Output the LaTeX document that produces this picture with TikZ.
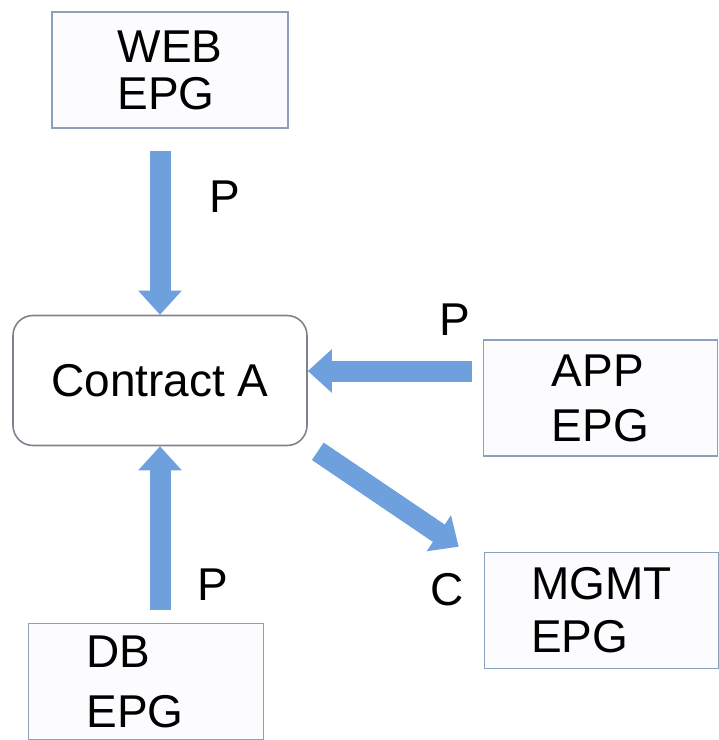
\documentclass[tikz,border=0pt]{standalone}
\usepackage{fontspec}
\setmainfont{Liberation Sans}
\usetikzlibrary{arrows.meta, positioning}
\definecolor{flowblue}{RGB}{110,160,222}
\definecolor{epgline}{RGB}{140,160,185}
\definecolor{ctline}{RGB}{125,130,140}
\tikzset{
  epg/.style={
    draw=epgline,
    line width=1.6pt,
    fill=blue!1,
    rectangle,
    minimum height=116pt,
    minimum width=234pt,
    align=left,
    inner sep=0pt,
  },
  contract/.style={
    draw=ctline,
    line width=1.6pt,
    rectangle,
    rounded corners=20pt,
    minimum height=130pt,
    minimum width=294pt,
    align=center,
  },
  flow/.style={
    -{Triangle[width=42pt,length=24pt]},
    line width=21pt,
    draw=flowblue,
    fill=flowblue
  },
  lbl/.style={
    inner sep=0pt
  }
}

\begin{document}
\begin{tikzpicture}[x=1pt, y=-1pt, font=\fontsize{46}{47}\selectfont]
  \useasboundingbox (0,0) rectangle (719,740);

  % Groupes
  \node[contract] (contract) at (160,380.5) {Contract A};
  \node[epg, minimum width=236pt] (web) at (170,70) {WEB\\EPG};
  \node[epg] (app) at (600.5,398) {APP\\[8pt]EPG};
  \node[epg] (mgmt) at (601.5,610.5) {MGMT\\[6pt]EPG};
  \node[epg, inner xsep=58pt, text width=119pt] (db) at (146,681.5) {DB\\[13pt]EPG};

  % Fleches
  \draw[flow, shorten <=22pt] (contract.north |- web.south) -- (contract.north);
  \draw[flow, shorten <=13pt] (contract.south |- db.north) -- (contract.south);
  \draw[flow, shorten <=11pt] ([yshift=27pt]app.west) -- ([yshift=9.5pt]contract.east);
  \draw[flow] ([shift={(10pt,-5pt)}]contract.south east) -- ([shift={(-25pt,5pt)}]mgmt.north west);

  % Etiquettes
  \node[lbl] (pweb) at (225,197) {P};
  \node[lbl] (papp) at (455,320) {P};
  \node[lbl] (pdb) at (213,585) {P};
  \node[lbl] (cmgmt) at (447,590) {C};
\end{tikzpicture}
\end{document}
